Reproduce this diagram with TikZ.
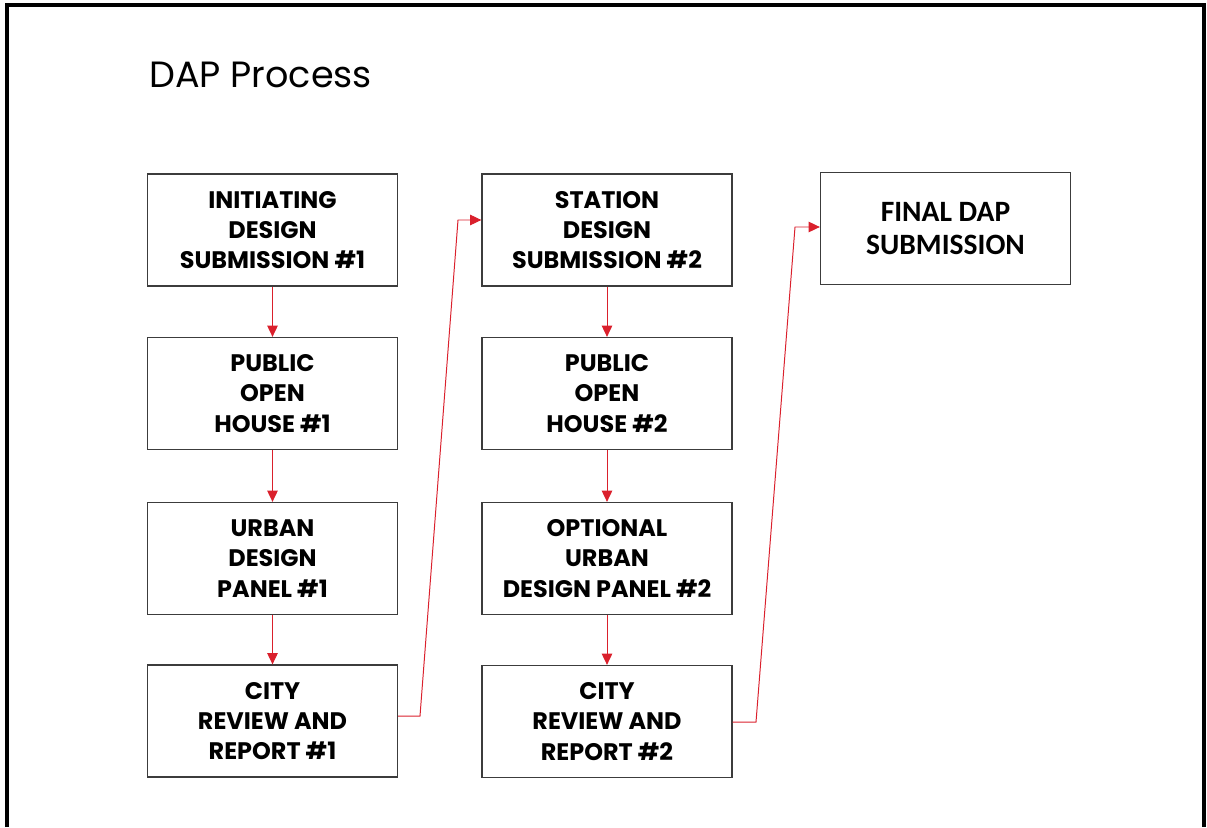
\documentclass[tikz,border=0pt]{standalone}
\usepackage{fontspec}
\setmainfont{Poppins}
\newfontfamily\calfont{Carlito}
\usetikzlibrary{arrows.meta}
\definecolor{flowred}{RGB}{218,32,44}
\definecolor{boxline}{RGB}{60,60,60}

\begin{document}
\begin{tikzpicture}[x=0.025cm,y=-0.025cm,
  stage/.style={draw=boxline,line width=0.9pt,minimum width=6.25cm,minimum height=2.8cm,
    align=center,font=\fontsize{17}{21.5}\selectfont\bfseries,inner sep=0pt},
  flow/.style={draw=flowred,line width=0.7pt,-{Triangle[length=8pt,width=7.5pt]}}]
\useasboundingbox (0,0) rectangle (1207,827);

% frame, open at the bottom
\draw[line width=2.2pt] (7,827) -- (7,5) -- (1204,5) -- (1204,827);
\node[anchor=base west,font=\fontsize{26}{30}\selectfont,inner sep=0pt] (title) at (149,88) {DAP Process};

% first column
\node[stage] (r1a) at (272.5,230) {INITIATING\\DESIGN\\SUBMISSION \#1};
\node[stage] (r1b) at (272.5,393.5) {PUBLIC\\OPEN\\HOUSE \#1};
\node[stage] (r1c) at (272.5,558.5) {URBAN\\DESIGN\\PANEL \#1};
\node[stage] (r1d) at (272.5,721) {CITY\\REVIEW AND\\REPORT \#1};

% second column
\node[stage] (r2a) at (607,230) {STATION\\DESIGN\\SUBMISSION \#2};
\node[stage] (r2b) at (607,393.5) {PUBLIC\\OPEN\\HOUSE \#2};
\node[stage] (r2c) at (607,558.5) {OPTIONAL\\URBAN\\DESIGN PANEL \#2};
\node[stage] (r2d) at (607,721.5) {CITY\\REVIEW AND\\REPORT \#2};

% final step
\node[stage,font=\calfont\fontsize{21}{23}\selectfont\bfseries] (fin) at (945.5,228.5) {FINAL DAP\\SUBMISSION};

\draw[flow] (r1a) -- (r1b);
\draw[flow] (r1b) -- (r1c);
\draw[flow] (r1c) -- (r1d);
\draw[flow] (r2a) -- (r2b);
\draw[flow] (r2b) -- (r2c);
\draw[flow] (r2c) -- (r2d);

\coordinate (k1) at (420,716);
\coordinate (k2) at (458,220);
\coordinate (k3) at (756,722);
\coordinate (k4) at (795,227);
\draw[flow] (r1d.east |- k1) -- (k1) -- (k2) -- (k2 -| r2a.west);
\draw[flow] (r2d.east |- k3) -- (k3) -- (k4) -- (k4 -| fin.west);
\end{tikzpicture}
\end{document}
